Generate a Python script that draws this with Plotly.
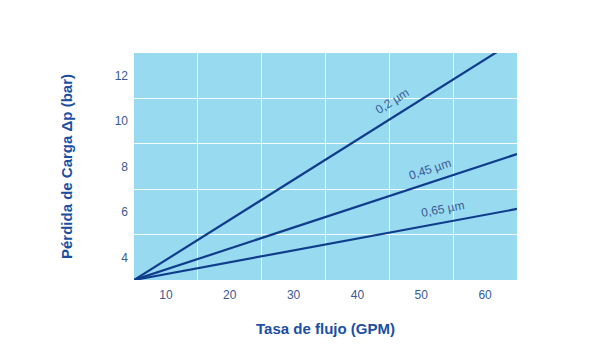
import plotly.graph_objects as go

# Data
flow = [5, 65]
series_names = ["0,2 µm", "0,45 µm", "0,65 µm"]
dp_02 = [3.0, 13.6]
dp_045 = [3.0, 8.55]
dp_065 = [3.0, 6.13]
label_x = [45.5, 51.4, 53.4]
label_y = [10.87, 7.91, 6.13]
label_angle = [-32, -18, -10.5]

x_ticks = [10, 20, 30, 40, 50, 60]
x_grid = [15, 25, 35, 45, 55]
y_ticks = [4, 6, 8, 10, 12]
y_grid = [5, 7, 9, 11]

line_color = "#0f3d8c"
text_color = "#3a5a94"
title_color = "#1b4fa3"

fig = go.Figure()
for ys in [dp_02, dp_045, dp_065]:
    fig.add_trace(go.Scatter(x=flow, y=ys, mode="lines",
                             line=dict(color=line_color, width=2.2),
                             showlegend=False, hoverinfo="skip"))

for name, lx, ly, ang in zip(series_names, label_x, label_y, label_angle):
    fig.add_annotation(x=lx, y=ly, text=name, showarrow=False, textangle=ang,
                       font=dict(family="Liberation Sans, Arial", size=12, color=text_color))

fig.update_layout(
    width=600, height=350,
    margin=dict(l=134, r=83, t=53, b=70),
    paper_bgcolor="white",
    plot_bgcolor="#98daf0",
    font=dict(family="Liberation Sans, Arial", size=12, color=text_color),
    xaxis=dict(range=[5, 65], tickmode="array", tickvals=x_ticks, showgrid=False,
               zeroline=False, showline=False, ticks="", ticklen=0,
               ticklabelstandoff=6,
               tickfont=dict(size=12, color=text_color),
               minor=dict(tickmode="array", tickvals=x_grid, showgrid=True,
                          gridcolor="rgba(255,255,255,0.9)", gridwidth=1.2, ticks=""),
               title=dict(text="<b>Tasa de flujo (GPM)</b>", standoff=22,
                          font=dict(size=15, color=title_color))),
    yaxis=dict(range=[3, 13], tickmode="array", tickvals=y_ticks, showgrid=False,
               zeroline=False, showline=False, ticks="", ticklen=0,
               ticklabelstandoff=5,
               tickfont=dict(size=12, color=text_color),
               minor=dict(tickmode="array", tickvals=y_grid, showgrid=True,
                          gridcolor="rgba(255,255,255,0.9)", gridwidth=1.2, ticks=""),
               title=dict(text="<b>Pérdida de Carga Δp (bar)</b>", standoff=38,
                          font=dict(size=15, color=title_color))),
)

fig.write_html("out.html")
